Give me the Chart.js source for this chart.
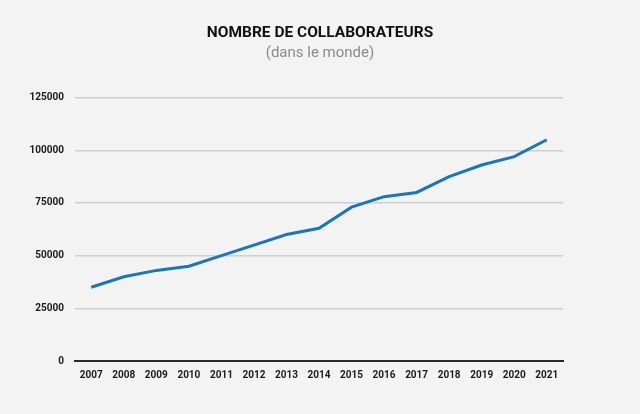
<!DOCTYPE html>
<html>
<head>
<meta charset="utf-8">
<script src="https://cdn.jsdelivr.net/npm/chart.js@4"></script>
<style>
  html, body { margin: 0; padding: 0; background: #f3f3f3; }
  #wrap { width: 640px; height: 414px; }
</style>
</head>
<body>
<div id="wrap"><canvas id="chart"></canvas></div>
<script>
const years = ['2007', '2008', '2009', '2010', '2011', '2012', '2013', '2014',
  '2015', '2016', '2017', '2018', '2019', '2020', '2021'];
const collaborateurs = [35000, 40000, 43000, 45000, 50000, 55000, 60000, 63000,
  73000, 78000, 80000, 87500, 93000, 97000, 105000];
const yTicks = [0, 25000, 50000, 75000, 100000, 125000];

const tickFont = { family: 'Roboto', size: 10, weight: 'bold' };

const ctx = document.getElementById('chart').getContext('2d');
new Chart(ctx, {
  type: 'line',
  data: {
    labels: years,
    datasets: [{
      label: 'Collaborateurs',
      data: collaborateurs,
      borderColor: '#1a75bb',
      borderWidth: 3,
      pointRadius: 0,
      tension: 0,
      fill: false
    }]
  },
  options: {
    responsive: true,
    maintainAspectRatio: false,
    animation: false,
    layout: { padding: 0 },
    plugins: {
      legend: { display: false },
      tooltip: { enabled: false },
      title: {
        display: true,
        text: 'NOMBRE DE COLLABORATEURS',
        color: '#111',
        font: { family: 'Roboto', size: 15.5, weight: 'bold' },
        padding: { top: 24, bottom: 2 }
      },
      subtitle: {
        display: true,
        text: '(dans le monde)',
        color: '#8a8a8a',
        font: { family: 'Roboto', size: 15 },
        padding: { top: 0, bottom: 35 }
      }
    },
    scales: {
      x: {
        offset: true,
        grid: { display: false, drawTicks: false },
        border: { color: '#2a2a2a', width: 2 },
        ticks: {
          color: '#1a1a1a',
          font: tickFont,
          padding: 8,
          maxRotation: 0,
          autoSkip: false
        },
        afterFit: (scale) => { scale.height = 53; }
      },
      y: {
        min: 0,
        max: 125000,
        afterBuildTicks: (scale) => { scale.ticks = yTicks.map(v => ({ value: v })); },
        grid: { color: '#cfcfcf', lineWidth: 1.5, drawTicks: false },
        border: { display: false },
        ticks: {
          color: '#1a1a1a',
          font: tickFont,
          padding: 11,
          callback: (v) => String(v)
        },
        afterFit: (scale) => { scale.width = 75; }
      },
      // empty right axis, only keeps the right margin so the title stays centred on the page
      yRight: {
        position: 'right',
        min: 0,
        max: 125000,
        grid: { display: false, drawTicks: false },
        border: { display: false },
        ticks: { display: false },
        afterFit: (scale) => { scale.width = 77; }
      }
    }
  }
});
</script>
</body>
</html>
